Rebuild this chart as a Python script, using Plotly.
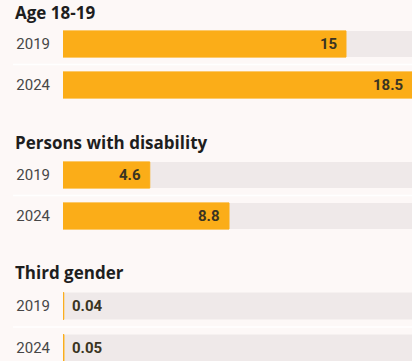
import plotly.graph_objects as go

# Share of electors (%) by group, 2019 vs 2024
years = ["2019", "2024"]
groups = ["Age 18-19", "Persons with disability", "Third gender"]
age_18_19 = [15, 18.5]
disability = [4.6, 8.8]
third_gender = [0.04, 0.05]
series = [age_18_19, disability, third_gender]

W, H = 412, 361
BG = "#fdf8f7"
TRACK = "#efe9e9"
BAR = "#fbad18"
LABEL = "#3a3422"
YEAR = "#474747"
FONT = "Roboto"
TITLE_FONT = "Open Sans"

xmax = max(max(s) for s in series)
x_left = 63 / W
rows = list(range(len(years)))

# vertical placement of each group: (top px, bottom px, axis range)
panels = [
    (23.5, 105.5, [1.5, -0.5]),
    (154.5, 236.5, [1.5, -0.5]),
    (285, 361, [1.31, -0.5]),
]
title_y = [12, 142, 272]

fig = go.Figure()
layout = dict(
    width=W, height=H,
    margin=dict(l=0, r=0, t=0, b=0),
    paper_bgcolor=BG, plot_bgcolor=BG,
    barmode="overlay", showlegend=False,
    font=dict(family=FONT),
    annotations=[], shapes=[],
)

for i, (vals, (top, bot, rng)) in enumerate(zip(series, panels)):
    sfx = "" if i == 0 else str(i + 1)
    xa, ya = "x" + sfx, "y" + sfx
    fig.add_trace(go.Bar(
        y=rows, x=[xmax] * len(years), orientation="h", width=0.64,
        marker=dict(color=TRACK, line=dict(width=0)), hoverinfo="skip",
        xaxis=xa, yaxis=ya,
    ))
    fig.add_trace(go.Bar(
        y=rows, x=vals, orientation="h", width=0.64,
        marker=dict(color=BAR, line=dict(width=1, color=BAR)),
        xaxis=xa, yaxis=ya,
    ))
    layout["xaxis" + sfx] = dict(
        domain=[x_left, 1], range=[0, xmax], fixedrange=True, anchor=ya,
        showgrid=False, zeroline=False, showline=False, showticklabels=False,
        ticks="",
    )
    layout["yaxis" + sfx] = dict(
        domain=[1 - bot / H, 1 - top / H], range=rng,
        tickvals=rows, ticktext=years,
        anchor=xa, showgrid=False, zeroline=False, showline=False,
        ticks="", ticklabelstandoff=12,
        tickfont=dict(family=FONT, size=15, color=YEAR),
    )
    # thin separator between the two years
    layout["shapes"].append(dict(
        type="line", xref="paper", yref=ya, x0=13 / W, x1=1, y0=0.5, y1=0.5,
        line=dict(color="#ffffff", width=1.5), layer="below",
    ))
    # group heading
    layout["annotations"].append(dict(
        text="<b>%s</b>" % groups[i], xref="paper", yref="paper",
        x=13 / W, y=1 - title_y[i] / H, xanchor="left", yanchor="middle",
        showarrow=False, font=dict(family=TITLE_FONT, size=17, color="#1e1e1e"),
    ))
    # value labels
    for j, v in zip(rows, vals):
        inside = v / xmax > 0.1
        layout["annotations"].append(dict(
            text="<b>%g</b>" % v, xref=xa, yref=ya, x=v, y=j,
            xanchor="right" if inside else "left",
            xshift=-7 if inside else 6, yanchor="middle",
            showarrow=False, font=dict(family=FONT, size=15, color=LABEL),
        ))

fig.update_layout(**layout)
fig.write_html("out.html")
